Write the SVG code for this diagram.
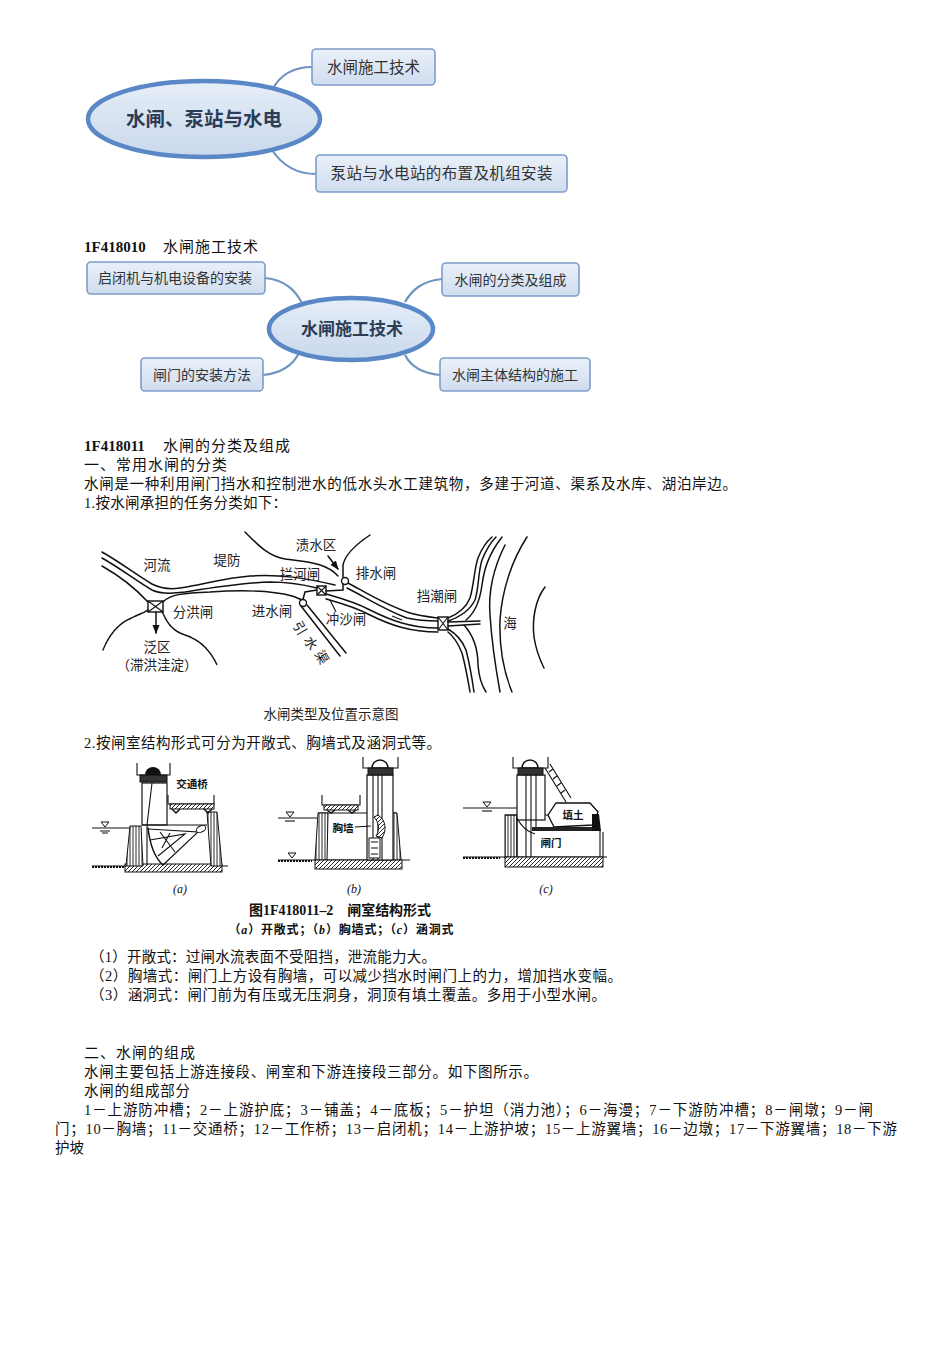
<svg xmlns="http://www.w3.org/2000/svg" width="950" height="1345" viewBox="0 0 950 1345">
<defs>
<linearGradient id="gEll" x1="0" y1="0" x2="0" y2="1"><stop offset="0" stop-color="#e6eef8"/><stop offset="1" stop-color="#c9d8ec"/></linearGradient>
<linearGradient id="gBox" x1="0" y1="0" x2="0" y2="1"><stop offset="0" stop-color="#e9f0f9"/><stop offset="1" stop-color="#d0ddef"/></linearGradient>
<pattern id="hatch" width="4" height="4" patternUnits="userSpaceOnUse"><rect width="4" height="4" fill="#fff"/><path d="M0,4 L4,0" stroke="#111" stroke-width="0.9"/></pattern>
<pattern id="vhatch" width="3" height="4" patternUnits="userSpaceOnUse"><rect width="3" height="4" fill="#fff"/><path d="M1,0 L1,4" stroke="#111" stroke-width="0.9"/></pattern>
<marker id="arr" viewBox="0 0 10 10" refX="9" refY="5" markerWidth="6" markerHeight="6" orient="auto"><path d="M0,1 L10,5 L0,9 Z" fill="#111"/></marker>
<style>
.ell{fill:url(#gEll);stroke:#5a88c6;stroke-width:4.5}
.box{fill:url(#gBox);stroke:#7d9dc9;stroke-width:1.6}
.con{fill:none;stroke:#6f94c2;stroke-width:2.2}
.mt{font-family:"Noto Sans CJK SC","Noto Sans",sans-serif;fill:#333;text-anchor:middle}
.mc{font-family:"Noto Sans CJK SC","Noto Sans",sans-serif;fill:#2c3d55;font-weight:bold;text-anchor:middle}
.body{font-family:"Liberation Serif","Noto Sans CJK SC",serif;font-size:14.5px;fill:#111}
.hd{font-family:"Liberation Serif","Noto Sans CJK SC",serif;font-size:15px;fill:#111}
.lbl{font-family:"Noto Sans CJK SC","Noto Sans",sans-serif;font-size:13.5px;fill:#222;text-anchor:middle}
.ln{fill:none;stroke:#111;stroke-width:1.5;stroke-linecap:round}
.th{fill:none;stroke:#111;stroke-width:1.1}
.sl{font-family:"Noto Sans CJK SC",sans-serif;font-size:10.5px;font-weight:bold;fill:#111;text-anchor:middle}
.cap{font-family:"Liberation Serif","Noto Sans CJK SC",serif;fill:#111;font-weight:bold;text-anchor:middle}
.it{font-family:"Liberation Serif",serif;font-style:italic;font-size:12px;fill:#111;text-anchor:middle}
</style>
</defs>

<g id="connectors">
<path class="con" d="M272,90 C280,75 292,67 312,67"/>
<path class="con" d="M272,150 C282,165 295,174 316,174"/>
<path class="con" d="M265,278 C285,280 295,290 302,303"/>
<path class="con" d="M442,279 C422,281 412,290 405,302"/>
<path class="con" d="M263,375 C283,373 293,365 299,353"/>
<path class="con" d="M440,375 C420,373 410,365 405,355"/>
</g>

<g id="node-main">
<ellipse class="ell" cx="204" cy="119" rx="116" ry="38"/>
<text class="mc" x="204" y="126" font-size="19.5">水闸、泵站与水电</text>
</g>
<g id="node-sluice-tech">
<rect class="box" x="312" y="49" width="123" height="36" rx="4"/>
<text class="mt" x="373.5" y="72.5" font-size="15.5">水闸施工技术</text>
</g>
<g id="node-pump">
<rect class="box" x="316" y="155" width="251" height="37" rx="4"/>
<text class="mt" x="441.5" y="179" font-size="15.5" textLength="222" lengthAdjust="spacing">泵站与水电站的布置及机组安装</text>
</g>

<text class="hd" x="84" y="252"><tspan font-weight="bold">1F418010</tspan><tspan x="163" letter-spacing="1">水闸施工技术</tspan></text>

<g id="node-center2">
<ellipse class="ell" cx="351" cy="329" rx="82" ry="31"/>
<text class="mc" x="352" y="335" font-size="17">水闸施工技术</text>
</g>
<g id="node-hoist">
<rect class="box" x="87" y="262" width="178" height="32" rx="4"/>
<text class="mt" x="175" y="283" font-size="14">启闭机与机电设备的安装</text>
</g>
<g id="node-class">
<rect class="box" x="442" y="263" width="137" height="33" rx="4"/>
<text class="mt" x="510.5" y="284.5" font-size="14">水闸的分类及组成</text>
</g>
<g id="node-gate">
<rect class="box" x="141" y="358" width="122" height="33" rx="4"/>
<text class="mt" x="202" y="379.5" font-size="14">闸门的安装方法</text>
</g>
<g id="node-main-struct">
<rect class="box" x="440" y="358" width="150" height="33" rx="4"/>
<text class="mt" x="515" y="379.5" font-size="14">水闸主体结构的施工</text>
</g>

<g id="text1">
<text class="hd" x="84" y="451"><tspan font-weight="bold">1F418011</tspan><tspan x="163" letter-spacing="1">水闸的分类及组成</tspan></text>
<text class="hd" x="84" y="470" letter-spacing="1">一、常用水闸的分类</text>
<text class="body" x="84" y="489" textLength="653" lengthAdjust="spacing">水闸是一种利用闸门挡水和控制泄水的低水头水工建筑物，多建于河道、渠系及水库、湖泊岸边。</text>
<text class="body" x="84" y="508" textLength="203" lengthAdjust="spacing">1.按水闸承担的任务分类如下：</text>
</g>

<g id="river-diagram">
<path class="ln" d="M102,552 C120,562 138,576 152,584 C160,588 168,590 180,588 C205,584 225,578 250,576 C280,574 305,578 335,585"/>
<path class="ln" d="M102,558 C120,568 138,582 152,590 C160,594 170,594 185,592 C210,588 240,583 270,582 C290,582 305,585 317,588"/>
<path class="ln" d="M102,566 C118,575 135,588 148,602"/>
<path class="ln" d="M163,602 C170,594 185,593 210,592 C240,590 270,590 292,596 C298,598 301,600 303,600"/>
<rect x="148" y="601" width="15" height="11" fill="#fff" stroke="#111" stroke-width="1.4"/>
<path class="th" d="M148,601 L163,612 M163,601 L148,612"/>
<path class="ln" d="M156,612 L156,633" marker-end="url(#arr)"/>
<path class="ln" d="M148,610 C140,615 128,618 120,625 C112,632 107,640 103,650" stroke-dasharray="3 0.8"/>
<path class="ln" d="M162,611 C166,620 170,630 185,635 C200,640 210,650 217,665" stroke-dasharray="3 0.8"/>
<circle cx="303" cy="603" r="3.5" fill="#fff" stroke="#111" stroke-width="1.4"/>
<path class="ln" d="M303,599 L305,592 L317,590"/>
<path class="ln" d="M301,606 L340,656"/>
<path class="ln" d="M307,605 L346,653"/>
<rect x="317" y="586" width="9" height="9" fill="#fff" stroke="#111" stroke-width="1.4"/>
<path class="th" d="M317,586 L326,595 M326,586 L317,595"/>
<path class="ln" d="M348,583 C365,592 385,605 410,613 C420,616 430,617 438,618"/>
<path class="ln" d="M347,588 C365,597 385,610 407,618 C420,621 430,621 438,621"/>
<path class="ln" d="M326,594 C340,598 355,602 370,610 C390,620 410,628 438,628"/>
<path class="ln" d="M326,599 C340,603 355,607 370,615 C390,625 410,632 438,632"/>
<path class="th" d="M392,616 L402,620"/>
<circle cx="345" cy="581" r="3.5" fill="#fff" stroke="#111" stroke-width="1.4"/>
<path class="ln" d="M343,584 L343,590 L326,591"/>
<path class="th" d="M330,600 L336,612"/>
<path class="ln" d="M245,532 C258,545 268,556 285,559 C305,562 325,562 338,576"/>
<path class="ln" d="M370,535 C355,545 345,555 343,565 L343,577"/>
<path class="ln" d="M328,556 L338,569" marker-end="url(#arr)"/>
<rect x="438" y="617" width="10" height="13" fill="#fff" stroke="#111" stroke-width="1.4"/>
<path class="th" d="M438,617 L448,630 M448,617 L438,630"/>
<path class="ln" d="M448,618 C458,614 466,608 470,598 C474,585 474,570 478,558 C482,548 486,542 492,537"/>
<path class="ln" d="M448,621 C460,617 470,610 475,600 C479,588 478,572 482,560 C486,550 490,543 496,537"/>
<path class="ln" d="M466,620 C476,612 480,600 482,585 C484,570 488,555 502,537"/>
<path class="ln" d="M448,622 L480,621"/>
<path class="ln" d="M448,626 L480,624"/>
<path class="ln" d="M448,629 C455,633 462,640 466,650 C470,665 472,678 474,692"/>
<path class="ln" d="M448,632 C453,636 458,643 462,653 C466,668 468,680 470,692"/>
<path class="ln" d="M464,625 C473,635 478,650 478,665 C479,678 482,686 486,692"/>
<path class="ln" d="M505,545 C495,565 488,590 490,615 C492,645 496,670 500,692"/>
<path class="ln" d="M527,537 C512,560 502,590 500,620 C499,650 505,675 512,692"/>
<path class="ln" d="M545,587 C535,600 532,620 534,637 C536,650 540,660 544,668"/>
<text class="lbl" x="316" y="550">渍水区</text>
<text class="lbl" x="157" y="570">河流</text>
<text class="lbl" x="227" y="565">堤防</text>
<text class="lbl" x="300" y="579">拦河闸</text>
<text class="lbl" x="376" y="578">排水闸</text>
<text class="lbl" x="437" y="601">挡潮闸</text>
<text class="lbl" x="193" y="617">分洪闸</text>
<text class="lbl" x="272" y="616">进水闸</text>
<text class="lbl" x="346" y="624">冲沙闸</text>
<text class="lbl" x="510" y="628">海</text>
<text class="lbl" x="157" y="652" font-size="13">泛区</text>
<text class="lbl" x="157" y="670" font-size="13">（滞洪洼淀）</text>
<text class="lbl" x="300" y="633" fill="#777" font-size="12" transform="rotate(60 300 628)">引</text>
<text class="lbl" x="311" y="648" fill="#777" font-size="12" transform="rotate(60 311 643)">水</text>
<text class="lbl" x="322" y="662" fill="#777" font-size="12" transform="rotate(60 322 657)">渠</text>
<text class="lbl" x="331" y="719" font-size="14">水闸类型及位置示意图</text>
</g>

<text class="body" x="84" y="748" textLength="357" lengthAdjust="spacing">2.按闸室结构形式可分为开敞式、胸墙式及涵洞式等。</text>

<g id="gate-a">
<path class="th" d="M92,828 L130,828"/>
<path d="M101,822 L109,822 L105,827 Z" fill="#fff" stroke="#111"/>
<path class="th" d="M100,831 L110,831 M102,833 L108,833"/>
<path class="th" d="M92,866 L228,866"/>
<path d="M92,867 L125,867" stroke="#111" stroke-width="2" stroke-dasharray="2 1"/>
<rect x="125" y="864" width="97" height="8" fill="url(#hatch)" stroke="#111"/>
<path d="M130,826 L141,826 L143,866 L126,866 Z" fill="url(#vhatch)" stroke="#111"/>
<path d="M207,812 L217,812 L222,866 L211,866 Z" fill="url(#vhatch)" stroke="#111"/>
<rect x="142" y="783" width="25" height="42" fill="#fff" stroke="#111" stroke-width="1.2"/>
<path class="th" d="M152,783 L147,825 M147,825 L147,865 M142,825 L207,825"/>
<path class="th" d="M137,763 L137,775 L170,775 L170,763"/>
<path d="M145,775 A8,8 0 0 1 161,775 Z" fill="#111"/>
<rect x="140" y="775" width="27" height="7" fill="#333" stroke="#111"/>
<path class="th" d="M168,795 L168,804 L214,804 L214,795"/>
<rect x="170" y="804" width="44" height="5" fill="url(#hatch)" stroke="#111"/>
<path d="M172,809 L176,813 L180,809 M204,809 L208,813 L212,809" fill="none" stroke="#111" stroke-width="1.5"/>
<path class="ln" d="M148,828 C150,845 155,858 163,865"/>
<path class="th" d="M148,829 L198,832 L163,865 M150,840 L185,834 L158,856 M160,832 L175,852 M170,833 L162,848"/>
<ellipse cx="201" cy="829" rx="5" ry="3" fill="#fff" stroke="#111" transform="rotate(-25 201 829)"/>
<text class="sl" x="192" y="788">交通桥</text>
<text class="it" x="180" y="893">(a)</text>
</g>

<g id="gate-b">
<path class="th" d="M278,818 L317,818"/>
<path d="M286,812 L294,812 L290,817 Z" fill="#fff" stroke="#111"/>
<path class="th" d="M285,821 L295,821"/>
<path d="M288,853 L296,853 L292,858 Z" fill="#fff" stroke="#111"/>
<path class="th" d="M278,860 L410,860"/>
<path d="M278,861 L312,861" stroke="#111" stroke-width="2" stroke-dasharray="2 1"/>
<path class="th" d="M318,813 L397,813"/>
<path d="M318,813 L328,813 L327,860 L315,860 Z" fill="url(#vhatch)" stroke="#111"/>
<path d="M388,813 L397,813 L401,860 L392,860 Z" fill="url(#vhatch)" stroke="#111"/>
<rect x="315" y="860" width="87" height="9" fill="url(#hatch)" stroke="#111"/>
<path class="th" d="M322,795 L322,805 L360,805 L360,795"/>
<rect x="324" y="805" width="34" height="5" fill="url(#hatch)" stroke="#111"/>
<path d="M327,810 L331,813 L335,810 M348,810 L352,813 L356,810" fill="none" stroke="#111" stroke-width="1.5"/>
<rect x="367" y="775" width="26" height="85" fill="#fff" stroke="#111" stroke-width="1.2"/>
<path class="th" d="M373,775 L373,860 M378,775 L378,860 M382,775 L382,860"/>
<path class="th" d="M363,757 L363,768 L398,768 L398,757"/>
<path d="M372,768 A8,8 0 0 1 388,768 Z" fill="#fff" stroke="#111" stroke-width="1.5"/>
<rect x="368" y="768" width="25" height="7" fill="#333" stroke="#111"/>
<path d="M378,815 C386,820 387,830 382,838 L376,836 C380,830 379,822 374,817 Z" fill="url(#hatch)" stroke="#111"/>
<rect x="369" y="838" width="11" height="20" fill="#fff" stroke="#111"/>
<path class="th" d="M371,842 L378,842 M371,848 L378,848 M371,854 L378,854"/>
<path class="th" d="M355,827 L371,826"/>
<text class="sl" x="343" y="832">胸墙</text>
<text class="it" x="354" y="893">(b)</text>
</g>

<g id="gate-c">
<path class="th" d="M463,808 L517,808"/>
<path d="M483,802 L491,802 L487,807 Z" fill="#fff" stroke="#111"/>
<path class="th" d="M482,811 L492,811"/>
<path class="th" d="M463,857 L607,857"/>
<path d="M463,858 L500,858" stroke="#111" stroke-width="2" stroke-dasharray="2 1"/>
<rect x="505" y="815" width="12" height="42" fill="url(#vhatch)" stroke="#111"/>
<path class="th" d="M505,815 L548,815 M517,815 L517,857 M600,830 L600,857 M603,832 L603,857"/>
<rect x="517" y="775" width="28" height="45" fill="#fff" stroke="#111" stroke-width="1.2"/>
<path class="th" d="M526,775 L526,857 M531,775 L531,857 M536,775 L536,830"/>
<path class="th" d="M513,757 L513,768 L548,768 L548,757"/>
<path d="M522,768 A8,8 0 0 1 538,768 Z" fill="#fff" stroke="#111" stroke-width="1.5"/>
<rect x="518" y="768" width="25" height="7" fill="#333" stroke="#111"/>
<path class="th" d="M545,768 L566,802 M550,764 L571,798 M549,772 L553,769 M553,779 L557,776 M557,786 L561,783 M561,793 L565,790"/>
<path d="M556,803 L590,803 L598,812 L593,825 L554,827 L548,815 Z" fill="#fff" stroke="#111" stroke-width="1.3"/>
<rect x="532" y="827" width="68" height="4" fill="#222"/>
<path d="M592,814 L599,814 L601,831 L592,831 Z" fill="#111"/>
<path class="th" d="M517,818 C522,828 528,832 535,834"/>
<rect x="505" y="857" width="98" height="10" fill="url(#hatch)" stroke="#111"/>
<text class="sl" x="573" y="819">填土</text>
<text class="sl" x="551" y="847">闸门</text>
<text class="it" x="546" y="893">(c)</text>
</g>

<g id="captions">
<text class="cap" x="340" y="915" font-size="14" textLength="182" lengthAdjust="spacing">图1F418011–2　闸室结构形式</text>
<text class="cap" x="341" y="934" font-size="12" textLength="225" lengthAdjust="spacing">（<tspan font-style="italic">a</tspan>）开敞式；（<tspan font-style="italic">b</tspan>）胸墙式；（<tspan font-style="italic">c</tspan>）涵洞式</text>
</g>

<g id="text2">
<text class="body" x="90" y="962" textLength="346" lengthAdjust="spacing">（1）开敞式：过闸水流表面不受阻挡，泄流能力大。</text>
<text class="body" x="90" y="981" textLength="532" lengthAdjust="spacing">（2）胸墙式：闸门上方设有胸墙，可以减少挡水时闸门上的力，增加挡水变幅。</text>
<text class="body" x="90" y="1000" textLength="516" lengthAdjust="spacing">（3）涵洞式：闸门前为有压或无压洞身，洞顶有填土覆盖。多用于小型水闸。</text>
<text class="hd" x="84" y="1058" letter-spacing="1">二、水闸的组成</text>
<text class="body" x="84" y="1077" textLength="454" lengthAdjust="spacing">水闸主要包括上游连接段、闸室和下游连接段三部分。如下图所示。</text>
<text class="body" x="84" y="1096" textLength="106" lengthAdjust="spacing">水闸的组成部分</text>
<text class="body" x="84" y="1115" textLength="789" lengthAdjust="spacing">1－上游防冲槽；2－上游护底；3－铺盖；4－底板；5－护坦（消力池）；6－海漫；7－下游防冲槽；8－闸墩；9－闸</text>
<text class="body" x="55" y="1134" textLength="842" lengthAdjust="spacing">门；10－胸墙；11－交通桥；12－工作桥；13－启闭机；14－上游护坡；15－上游翼墙；16－边墩；17－下游翼墙；18－下游</text>
<text class="body" x="55" y="1153">护坡</text>
</g>
</svg>
